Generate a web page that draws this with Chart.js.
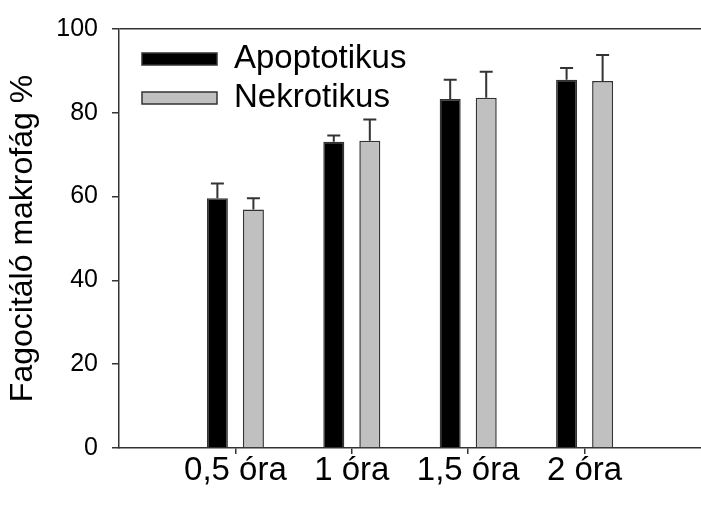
<!DOCTYPE html>
<html>
<head>
<meta charset="utf-8">
<script src="https://cdn.jsdelivr.net/npm/chart.js@4"></script>
<style>
  html, body { margin: 0; padding: 0; background: #fff; }
  canvas { display: block; }
</style>
</head>
<body>
<canvas id="c" width="701" height="506"></canvas>
<script>
// Time points (empty slots at both ends give the axis its margins)
const categories = ['', '0,5 óra', '1 óra', '1,5 óra', '2 óra', ''];
const apoptotikus = [null, 59.6, 73.1, 83.3, 87.9, null];
const apoptotikusErr = [null, 3.5, 1.5, 4.6, 2.8, null];
const nekrotikus = [null, 56.9, 73.3, 83.6, 87.6, null];
const nekrotikusErr = [null, 2.7, 5.1, 6.2, 6.2, null];
const yTicks = [0, 20, 40, 60, 80, 100];

const FONT = "'Liberation Sans', Arial, sans-serif";
const AXIS = '#333';

// Upper error whiskers with a short cap
const errorBars = {
  id: 'errorBars',
  afterDatasetsDraw(chart) {
    const ctx = chart.ctx;
    const y = chart.scales.y;
    chart.data.datasets.forEach((ds, di) => {
      const meta = chart.getDatasetMeta(di);
      meta.data.forEach((bar, i) => {
        const v = ds.data[i], e = ds.errors[i];
        if (v == null || e == null) return;
        const yBase = y.getPixelForValue(v);
        const yTop = y.getPixelForValue(v + e);
        ctx.save();
        ctx.strokeStyle = AXIS;
        ctx.lineWidth = 2;
        ctx.beginPath();
        ctx.moveTo(bar.x, yBase);
        ctx.lineTo(bar.x, yTop);
        ctx.moveTo(bar.x - 6.5, yTop);
        ctx.lineTo(bar.x + 6.5, yTop);
        ctx.stroke();
        ctx.restore();
      });
    });
  }
};

// Legend drawn inside the plot, top-left
const innerLegend = {
  id: 'innerLegend',
  afterDraw(chart) {
    const ctx = chart.ctx;
    const a = chart.chartArea;
    const x0 = a.left + 23;
    const rows = [a.top + 30, a.top + 69];
    ctx.save();
    chart.data.datasets.forEach((ds, i) => {
      const cy = rows[i];
      ctx.fillStyle = ds.backgroundColor;
      ctx.fillRect(x0, cy - 6, 75, 12);
      ctx.strokeStyle = AXIS;
      ctx.lineWidth = 1.5;
      ctx.strokeRect(x0, cy - 6, 75, 12);
      ctx.fillStyle = '#000';
      ctx.font = '33px ' + FONT;
      ctx.textBaseline = 'middle';
      ctx.textAlign = 'left';
      ctx.fillText(ds.label, x0 + 92, cy);
    });
    ctx.restore();
  }
};

new Chart(document.getElementById('c'), {
  type: 'bar',
  data: {
    labels: categories,
    datasets: [
      {
        label: 'Apoptotikus',
        data: apoptotikus,
        errors: apoptotikusErr,
        backgroundColor: '#000000',
        borderColor: AXIS,
        borderWidth: 1.5
      },
      {
        label: 'Nekrotikus',
        data: nekrotikus,
        errors: nekrotikusErr,
        backgroundColor: '#c0c0c0',
        borderColor: AXIS,
        borderWidth: 1.5
      }
    ]
  },
  options: {
    responsive: false,
    animation: false,
    devicePixelRatio: 1,
    layout: { padding: { top: 28, right: 0, bottom: 0, left: 0 } },
    datasets: {
      bar: { categoryPercentage: 0.619, barPercentage: 0.583 }
    },
    plugins: {
      legend: { display: false },
      tooltip: { enabled: false }
    },
    scales: {
      x: {
        type: 'category',
        offset: false,
        afterFit: s => { s.height = 58; },
        grid: {
          offset: false,
          drawOnChartArea: false,
          tickLength: 6,
          lineWidth: 1.5,
          tickColor: c => (c.index === 0 || c.index === categories.length - 1) ? 'rgba(0,0,0,0)' : AXIS
        },
        border: { display: true, color: AXIS, width: 1.5 },
        ticks: {
          color: '#000',
          font: { family: FONT, size: 33 },
          padding: -3,
          maxRotation: 0,
          autoSkip: false
        }
      },
      y: {
        min: 0,
        max: 100,
        afterFit: s => { s.width = 119; },
        afterBuildTicks: s => { s.ticks = yTicks.map(v => ({ value: v })); },
        grid: {
          drawOnChartArea: true,
          tickLength: 7,
          lineWidth: 1.5,
          color: c => (c.tick && c.tick.value === 100) ? AXIS : 'rgba(0,0,0,0)',
          tickColor: AXIS
        },
        border: { display: true, color: AXIS, width: 1.5 },
        ticks: {
          color: '#000',
          font: { family: FONT, size: 25 },
          padding: 14
        },
        title: {
          display: true,
          text: 'Fagocitáló makrofág %',
          color: '#000',
          font: { family: FONT, size: 32 },
          padding: { top: 4, bottom: 0 }
        }
      }
    }
  },
  plugins: [errorBars, innerLegend]
});
</script>
</body>
</html>
